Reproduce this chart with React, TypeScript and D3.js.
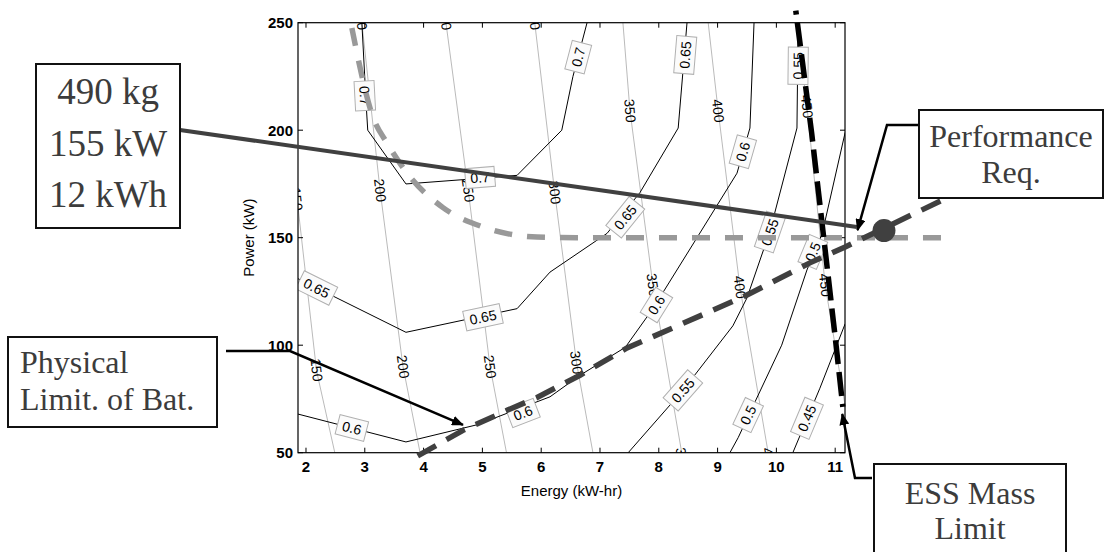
import React from "react";
import * as d3 from "d3";

type Pt = [number, number];

// axis ticks
const xTicks = [2, 3, 4, 5, 6, 7, 8, 9, 10, 11];
const yTicks = [50, 100, 150, 200, 250];

// efficiency contours, [energy kWh, power kW]
const eff070: Pt[] = [[2.95, 250], [3.03, 209], [3.05, 200], [3.7, 175], [4.67, 177], [5.59, 179], [6.35, 200], [6.54, 225], [6.78, 250]];
const eff065: Pt[] = [[1.86, 131], [3.7, 106], [5.59, 117], [6.15, 134], [7.12, 152], [7.68, 171], [8.33, 201], [8.41, 227], [8.48, 250]];
const eff060: Pt[] = [[1.86, 68], [3.7, 55], [4.91, 63], [6.15, 76], [6.66, 86], [7.43, 99], [7.9, 117], [8.65, 150], [9.33, 180], [9.55, 201], [9.62, 250]];
const eff055: Pt[] = [[7.48, 50], [8.41, 79], [9.26, 109], [9.5, 122], [9.89, 153], [10.35, 201], [10.37, 250]];
const eff050: Pt[] = [[9.21, 50], [9.35, 57], [10.09, 100], [10.52, 135], [10.78, 152], [11.17, 199]];
const eff045: Pt[] = [[10.28, 50], [10.74, 80], [11.17, 110]];
const effLevels = ["0.7", "0.65", "0.6", "0.55", "0.5", "0.45"];
const effCurves = [eff070, eff065, eff060, eff055, eff050, eff045];

// efficiency labels [energy, power, level]
const effLabels: [number, number, string][] = [
  [3.0, 216, "0.7"], [4.96, 178, "0.7"], [6.63, 234, "0.7"],
  [2.18, 126.6, "0.65"], [5.01, 113, "0.65"], [7.43, 159.5, "0.65"], [8.45, 235, "0.65"],
  [2.78, 61.5, "0.6"], [5.69, 68.5, "0.6"], [7.96, 118.7, "0.6"], [9.43, 190, "0.6"],
  [8.41, 79, "0.55"], [9.89, 152.6, "0.55"], [10.37, 230, "0.55"],
  [9.52, 67.5, "0.5"], [10.62, 143.4, "0.5"],
  [10.52, 66, "0.45"],
];

// ESS mass contours (kg)
const m150: Pt[] = [[1.7, 200], [1.84, 170], [2.18, 88], [2.49, 50]];
const m200: Pt[] = [[2.95, 250], [3.26, 172], [3.65, 90], [3.94, 50]];
const m250: Pt[] = [[4.38, 250], [4.76, 172], [5.13, 90], [5.41, 50]];
const m300: Pt[] = [[5.89, 250], [6.23, 171], [6.6, 92], [6.88, 50]];
const m350: Pt[] = [[7.39, 250], [7.51, 209], [7.9, 128], [8.39, 50]];
const m400: Pt[] = [[8.84, 250], [9.01, 209], [9.38, 127], [9.86, 50]];
const m450: Pt[] = [[10.35, 250], [10.52, 211], [10.83, 128], [11.3, 50]];
const massLevels = ["150", "200", "250", "300", "350", "400", "450"];
const massCurves = [m150, m200, m250, m300, m350, m400, m450];

const massLabels: [number, number, string][] = [
  [1.84, 168, "150"], [2.18, 88.5, "150"],
  [2.94, 252, "200"], [3.26, 172, "200"], [3.65, 90, "200"],
  [4.37, 252, "250"], [4.76, 172, "250"], [5.13, 90, "250"],
  [5.88, 252, "300"], [6.23, 171, "300"], [6.6, 92, "300"],
  [7.51, 209, "350"], [7.9, 128, "350"], [8.4, 47, "350"],
  [9.01, 209, "400"], [9.38, 127, "400"], [9.87, 47, "400"],
  [10.52, 211, "450"], [10.83, 128, "450"],
];

// overlay requirement lines
const perfReq: Pt[] = [[2.78, 247.5], [3.14, 206], [3.38, 194], [3.72, 180], [4.33, 164], [5.01, 155], [5.93, 150.3], [6.6, 150], [12.9, 150]];
const batLimit: Pt[] = [[3.9, 48.5], [4.67, 60.4], [5.42, 69.7], [5.93, 75.7], [6.66, 86], [7.46, 98.7], [9.43, 122.4], [10.57, 138.3], [11.17, 145.7], [12.83, 167.6]];
const massLimit: Pt[] = [[10.33, 255.6], [10.6, 198.7], [10.79, 153.6], [11.0, 103.8], [11.13, 71.3]];
const designPoint: Pt = [11.83, 153.3];

// callout targets
const massTip: Pt = [11.37, 155];
const perfTip: Pt = [11.38, 153.5];
const batTip: Pt = [4.67, 62.9];
const essTip: Pt = [11.12, 68];

const W = 1105;
const H = 552;
const plot = { left: 298, right: 845, top: 22.7, bottom: 452.7 };

const x = d3.scaleLinear().domain([1.864, 11.167]).range([plot.left, plot.right]);
const y = d3.scaleLinear().domain([50, 250]).range([plot.bottom, plot.top]);

const line = d3.line<Pt>().x((d) => x(d[0])).y((d) => y(d[1]));
const smooth = d3.line<Pt>().x((d) => x(d[0])).y((d) => y(d[1])).curve(d3.curveMonotoneX);

const sans = "'Liberation Sans', Arial, sans-serif";
const serif = "'Liberation Serif', 'Times New Roman', serif";

function textW(s: string, fs: number) {
  return [...s].reduce((a, c) => a + (c === "." ? 0.278 : 0.556), 0) * fs;
}

function labelAngle(pts: Pt[], e: number, p: number) {
  const px = x(e), py = y(p);
  let best = Infinity, ang = 0;
  for (let i = 0; i < pts.length - 1; i++) {
    const ax = x(pts[i][0]), ay = y(pts[i][1]);
    const bx = x(pts[i + 1][0]), by = y(pts[i + 1][1]);
    const dx = bx - ax, dy = by - ay;
    let t = ((px - ax) * dx + (py - ay) * dy) / (dx * dx + dy * dy);
    t = Math.max(0, Math.min(1, t));
    const d = (ax + t * dx - px) ** 2 + (ay + t * dy - py) ** 2;
    if (d < best) {
      best = d;
      ang = (Math.atan2(dy, dx) * 180) / Math.PI;
    }
  }
  if (ang > 90) ang -= 180;
  if (ang < -90) ang += 180;
  return ang;
}

const Box = ({ x0, y0, x1, y1, lines, fs, lh, anchor, tx }: any) => (
  <g>
    <rect x={x0} y={y0} width={x1 - x0} height={y1 - y0} fill="#fff" stroke="#111" strokeWidth={2} />
    {lines.map((t: string, i: number) => (
      <text key={i} x={tx} y={lh[i]} fontFamily={serif} fontSize={fs} fill="#3c3c3c" textAnchor={anchor}>
        {t}
      </text>
    ))}
  </g>
);

const App = () => {
  const effFs = 14;
  const massFs = 14;
  return (
    <div style={{ position: "absolute", left: 0, top: 0 }}>
      <svg width={W} height={H} style={{ display: "block", background: "#fff" }}>
        <defs>
          <clipPath id="plotClip">
            <rect x={plot.left} y={plot.top} width={plot.right - plot.left} height={plot.bottom - plot.top} />
          </clipPath>
          <marker id="arrow" viewBox="0 0 12 10" refX="11" refY="5" markerWidth="12" markerHeight="10" markerUnits="userSpaceOnUse" orient="auto">
            <path d="M0,0 L12,5 L0,10 Z" fill="#000" />
          </marker>
        </defs>

        <g clipPath="url(#plotClip)">
          {massCurves.map((c, i) => (
            <path key={massLevels[i]} d={line(c) || ""} fill="none" stroke="#b2b2b2" strokeWidth={0.9} />
          ))}
          {massLabels.map(([e, p, lv], i) => {
            const a = labelAngle(massCurves[massLevels.indexOf(lv)], e, p);
            return (
              <text key={i} transform={`translate(${x(e)},${y(p)}) rotate(${a})`} textAnchor="middle" dy="0.35em" fontFamily={sans} fontSize={massFs} fill="#000">
                {lv}
              </text>
            );
          })}
          {effCurves.map((c, i) => (
            <path key={effLevels[i]} d={line(c) || ""} fill="none" stroke="#000" strokeWidth={1} />
          ))}
          {effLabels.map(([e, p, lv], i) => {
            const a = labelAngle(effCurves[effLevels.indexOf(lv)], e, p);
            const w = textW(lv, effFs) + 10;
            return (
              <g key={i} transform={`translate(${x(e)},${y(p)}) rotate(${a})`}>
                <rect x={-w / 2} y={-10} width={w} height={20} fill="#fbfbfb" stroke="#b0b0b0" strokeWidth={1} />
                <text textAnchor="middle" dy="0.36em" fontFamily={sans} fontSize={effFs} fill="#000">
                  {lv}
                </text>
              </g>
            );
          })}
        </g>

        {/* axes box and ticks */}
        <rect x={plot.left} y={plot.top} width={plot.right - plot.left} height={plot.bottom - plot.top} fill="none" stroke="#000" strokeWidth={1.2} />
        {xTicks.map((t) => (
          <g key={"x" + t}>
            <line x1={x(t)} x2={x(t)} y1={plot.bottom} y2={plot.bottom - 5} stroke="#000" />
            <line x1={x(t)} x2={x(t)} y1={plot.top} y2={plot.top + 5} stroke="#000" />
            <text x={x(t)} y={472} textAnchor="middle" fontFamily={sans} fontWeight="bold" fontSize={15}>
              {t}
            </text>
          </g>
        ))}
        {yTicks.map((t) => (
          <g key={"y" + t}>
            <line x1={plot.left} x2={plot.left + 5} y1={y(t)} y2={y(t)} stroke="#000" />
            <line x1={plot.right} x2={plot.right - 5} y1={y(t)} y2={y(t)} stroke="#000" />
            <text x={plot.left - 5} y={y(t)} dy="0.36em" textAnchor="end" fontFamily={sans} fontWeight="bold" fontSize={15}>
              {t}
            </text>
          </g>
        ))}
        <text x={(plot.left + plot.right) / 2} y={496} textAnchor="middle" fontFamily={sans} fontSize={15}>
          Energy (kW-hr)
        </text>
        <text transform={`translate(254,${(plot.top + plot.bottom) / 2}) rotate(-90)`} textAnchor="middle" fontFamily={sans} fontSize={15}>
          Power (kW)
        </text>

        {/* requirement lines */}
        <path d={smooth(perfReq) || ""} fill="none" stroke="#999" strokeWidth={5.5} strokeDasharray="18,15" />
        <path d={line(batLimit) || ""} fill="none" stroke="#404040" strokeWidth={5.5} strokeDasharray="21,12" />
        <path d={line(massLimit) || ""} fill="none" stroke="#000" strokeWidth={5.5} strokeDasharray="24,8" strokeDashoffset={-12} />
        <line x1={180} y1={130} x2={x(massTip[0])} y2={y(massTip[1])} stroke="#404040" strokeWidth={4} />
        <circle cx={x(designPoint[0])} cy={y(designPoint[1])} r={11.5} fill="#404040" />

        {/* callouts */}
        <polyline points={`919,125 887,125 ${x(perfTip[0])},${y(perfTip[1])}`} fill="none" stroke="#000" strokeWidth={2.5} markerEnd="url(#arrow)" />
        <polyline points={`226,351 290,351 ${x(batTip[0])},${y(batTip[1])}`} fill="none" stroke="#000" strokeWidth={2.5} markerEnd="url(#arrow)" />
        <polyline points={`872,478 855,478 ${x(essTip[0])},${y(essTip[1])}`} fill="none" stroke="#000" strokeWidth={2.5} markerEnd="url(#arrow)" />

        <Box x0={36} y0={64} x1={180} y1={228} lines={["490 kg", "155 kW", "12 kWh"]} fs={37} lh={[104, 155.5, 207]} anchor="middle" tx={108} />
        <Box x0={8} y0={337} x1={217} y1={427} lines={["Physical", "Limit. of Bat."]} fs={32} lh={[373, 410]} anchor="start" tx={20} />
        <Box x0={919} y0={110} x1={1103} y1={198} lines={["Performance", "Req."]} fs={32} lh={[147, 183]} anchor="middle" tx={1011} />
        <Box x0={874} y0={464} x1={1066} y1={560} lines={["ESS Mass", "Limit"]} fs={32} lh={[504, 539]} anchor="middle" tx={970} />
      </svg>
    </div>
  );
};

export default App;
